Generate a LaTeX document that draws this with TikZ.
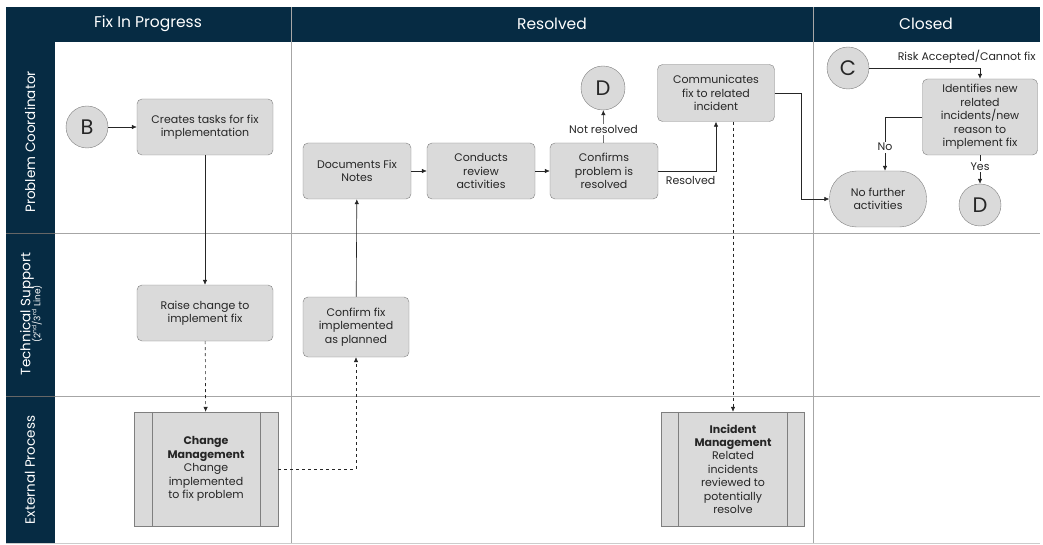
\documentclass[tikz,border=0pt]{standalone}
\usepackage{fontspec}
\setmainfont{Poppins}
\usetikzlibrary{arrows.meta, calc}

\definecolor{navy}{HTML}{062B43}
\definecolor{boxgray}{HTML}{DADADA}
\definecolor{edgegray}{HTML}{7F7F7F}
\definecolor{gridgray}{HTML}{A6A6A6}
\definecolor{inkgray}{HTML}{262626}

\begin{document}
\begin{tikzpicture}[
  x=1pt, y=-1pt,
  font=\fontsize{11}{13.4}\selectfont, text=inkgray,
  task/.style={
    rectangle, rounded corners=5pt, draw=edgegray, fill=boxgray,
    minimum width=108pt, minimum height=56pt, align=center, inner sep=2pt
  },
  subproc/.style={
    rectangle, draw=edgegray, fill=boxgray,
    minimum width=144pt, minimum height=114pt, align=center
  },
  terminal/.style={
    rectangle, rounded corners=27pt, draw=edgegray, fill=boxgray,
    minimum width=97pt, minimum height=56pt, align=center
  },
  connector/.style={
    circle, draw=edgegray, fill=boxgray, minimum size=42pt, inner sep=0pt,
    font=\fontsize{21}{21}\selectfont
  },
  heading/.style={text=white, font=\fontsize{15.5}{16}\selectfont},
  lane/.style={text=white, rotate=90, align=center, font=\fontsize{13.5}{14}\selectfont},
  lbl/.style={fill=white, inner sep=1.5pt},
  flow/.style={-{Latex[length=5pt, width=4.5pt]}, black!85, line width=0.6pt},
  dflow/.style={-{Latex[length=5pt, width=4.5pt]}, dashed, black!85, line width=0.6pt},
]
\useasboundingbox (0,0) rectangle (1043,545);

% Frame: header bar and lane column
\fill[navy] (6,7) rectangle (1040,42);
\fill[navy] (6,42) rectangle (55,543);
\draw[gridgray, line width=0.8pt] (55,233) -- (1040,233);
\draw[gridgray, line width=0.8pt] (55,396) -- (1040,396);
\draw[black!60, line width=0.8pt] (6,233) -- (55,233);
\draw[black!60, line width=0.8pt] (6,396) -- (55,396);
\draw[gridgray, line width=0.8pt] (291,7) -- (291,543);
\draw[gridgray, line width=0.8pt] (813,7) -- (813,543);
\draw[black!20, line width=0.8pt] (6,543) -- (1040,543);

% Phases
\node[heading] (hfix) at (148,24) {Fix In Progress};
\node[heading] (hres) at (552,24) {Resolved};
\node[heading] (hclo) at (926,24) {Closed};

% Lanes
\node[lane] (lpc) at (30,142) {Problem Coordinator};
\node[lane] (lts) at (31,314) {Technical Support\\[-4pt]{\fontsize{9}{9}\selectfont (2\textsuperscript{nd}/3\textsuperscript{rd} Line)}};
\node[lane] (lep) at (30,470) {External Process};

% Fix in progress
\node[connector] (b) at (87,127) {B};
\node[task, minimum width=136pt] (tasks) at (205,127) {Creates tasks for fix\\implementation};
\node[task, minimum width=136pt] (raise) at (205,313) {Raise change to\\implement fix};
\node[subproc] (chg) at (206,469) {\textbf{Change}\\\textbf{Management}\\Change\\implemented\\to fix problem};
\draw[edgegray] ([xshift=18pt]chg.north west) -- ([xshift=18pt]chg.south west);
\draw[edgegray] ([xshift=-18pt]chg.north east) -- ([xshift=-18pt]chg.south east);

% Resolved
\node[task, minimum width=106pt, minimum height=60pt] (confirm) at (356,327) {Confirm fix\\implemented\\as planned};
\node[task] (docs) at (357,171) {Documents Fix\\Notes};
\node[task] (review) at (481,171) {Conducts\\review\\activities};
\node[task] (checks) at (604,171) {Confirms\\problem is\\resolved};
\node[connector, minimum size=44pt] (dtop) at (603,88) {D};
\node[task, minimum width=117pt, minimum height=57pt] (comms) at (716,93) {Communicates\\fix to related\\incident};
\node[subproc, minimum width=143pt] (inc) at (733,469) {\textbf{Incident}\\\textbf{Management}\\Related\\incidents\\reviewed to\\potentially\\resolve};
\draw[edgegray] ([xshift=17pt]inc.north west) -- ([xshift=17pt]inc.south west);
\draw[edgegray] ([xshift=-18pt]inc.north east) -- ([xshift=-18pt]inc.south east);

% Closed
\node[connector] (c) at (848,68) {C};
\node[task, minimum width=115pt, minimum height=76pt] (ident) at (980,117) {Identifies new\\related\\incidents/new\\reason to\\implement fix};
\node[terminal] (none) at (878,199) {No further\\activities};
\node[connector] (dbot) at (980,205) {D};

% Flows
\draw[flow] (b) -- (tasks);
\draw[flow] (tasks) -- (raise);
\draw[dflow] (raise) -- (chg);
\draw[dflow] (chg.east) -| (confirm.south);
\draw[flow] (confirm) -- (docs);
\draw[flow] (docs) -- (review);
\draw[flow] (review) -- (checks);
\draw[flow] (checks) -- node[lbl, pos=0.4] {Not resolved} (dtop);
\draw[flow] (checks.east) -| node[pos=0.28, below=2pt] {Resolved} (comms.south);
\draw[flow] (comms.east) -- ++(27,0) |- (none.west);
\draw[dflow] (inc.north |- comms.south) -- (inc.north);
\draw[flow] (c.east) -| node[pos=0.44, above=1pt] {Risk Accepted/Cannot fix} (ident.north);
\draw[flow] (ident.west) -| node[lbl, pos=0.78] {No} ([xshift=7pt]none.north);
\draw[flow] (ident) -- node[lbl, pos=0.4] {Yes} (dbot);

\end{tikzpicture}
\end{document}
